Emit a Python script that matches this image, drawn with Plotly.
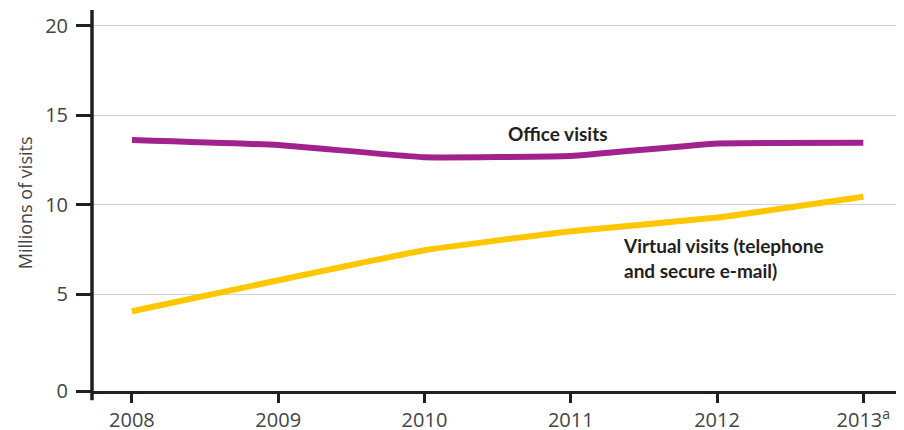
import plotly.graph_objects as go

years = [2008, 2009, 2010, 2011, 2012, 2013]
year_labels = ["2008", "2009", "2010", "2011", "2012", "2013<sup>a</sup>"]
office_visits = [13.61, 13.33, 12.65, 12.72, 13.42, 13.46]
virtual_visits = [4.05, 5.78, 7.46, 8.52, 9.28, 10.44]

y_base = -0.41  # baseline of the reference's value axis, labelled 0
y_tick_vals = [y_base, 5, 10, 15, 20]
y_tick_text = ["0", "5", "10", "15", "20"]

INK = "#231f20"
TICK_FONT = dict(family="Open Sans", size=20, color="#444444")

fig = go.Figure()
fig.add_trace(go.Scatter(
    x=years, y=office_visits, mode="lines", name="Office visits",
    line=dict(color="#a2228d", width=6, shape="spline", smoothing=0.3),
))
fig.add_trace(go.Scatter(
    x=years, y=virtual_visits, mode="lines", name="Virtual visits",
    line=dict(color="#ffc700", width=6, shape="spline", smoothing=0.3),
))

fig.add_annotation(x=2010.91, y=14.0, text="<b>Office visits</b>", showarrow=False,
                   xanchor="center", yanchor="middle",
                   font=dict(family="Lato", size=19, color=INK))
fig.add_annotation(x=2011.34, y=7.0,
                   text="<b>Virtual visits (telephone<br>and secure e-mail)</b>",
                   showarrow=False, xanchor="left", yanchor="middle", align="left",
                   font=dict(family="Lato", size=19, color=INK))
fig.add_annotation(xref="paper", yref="paper", x=-0.0825, y=0.493,
                   text="Millions of visits", textangle=-90, showarrow=False,
                   xanchor="center", yanchor="middle",
                   font=dict(family="Open Sans", size=18, color="#444444"))

# vertical axis line extending slightly below the baseline
fig.add_shape(type="line", xref="paper", yref="paper", x0=0, x1=0, y0=-0.0245, y1=1,
              line=dict(color=INK, width=3.5), layer="above")

# the page adds an 8px body margin, so the figure is sized 8px smaller
fig.update_layout(
    width=896, height=422,
    margin=dict(l=84, r=0, t=2, b=39.3),
    plot_bgcolor="white", paper_bgcolor="white",
    showlegend=False,
    xaxis=dict(
        range=[2007.727, 2013.278], tickvals=years, ticktext=year_labels,
        showgrid=False, zeroline=False, automargin=False,
        showline=True, linecolor=INK, linewidth=3,
        ticks="outside", ticklen=9, tickwidth=3, tickcolor=INK,
        tickfont=TICK_FONT, ticklabelstandoff=0,
    ),
    yaxis=dict(
        range=[-0.408, 20.878], tickvals=y_tick_vals, ticktext=y_tick_text,
        showgrid=True, gridcolor="#d2d2d2", gridwidth=1.2, zeroline=False,
        showline=False, automargin=False,
        ticks="outside", ticklen=15, tickwidth=3, tickcolor=INK,
        tickfont=TICK_FONT, ticklabelstandoff=4,
    ),
)

fig.write_html("out.html")
